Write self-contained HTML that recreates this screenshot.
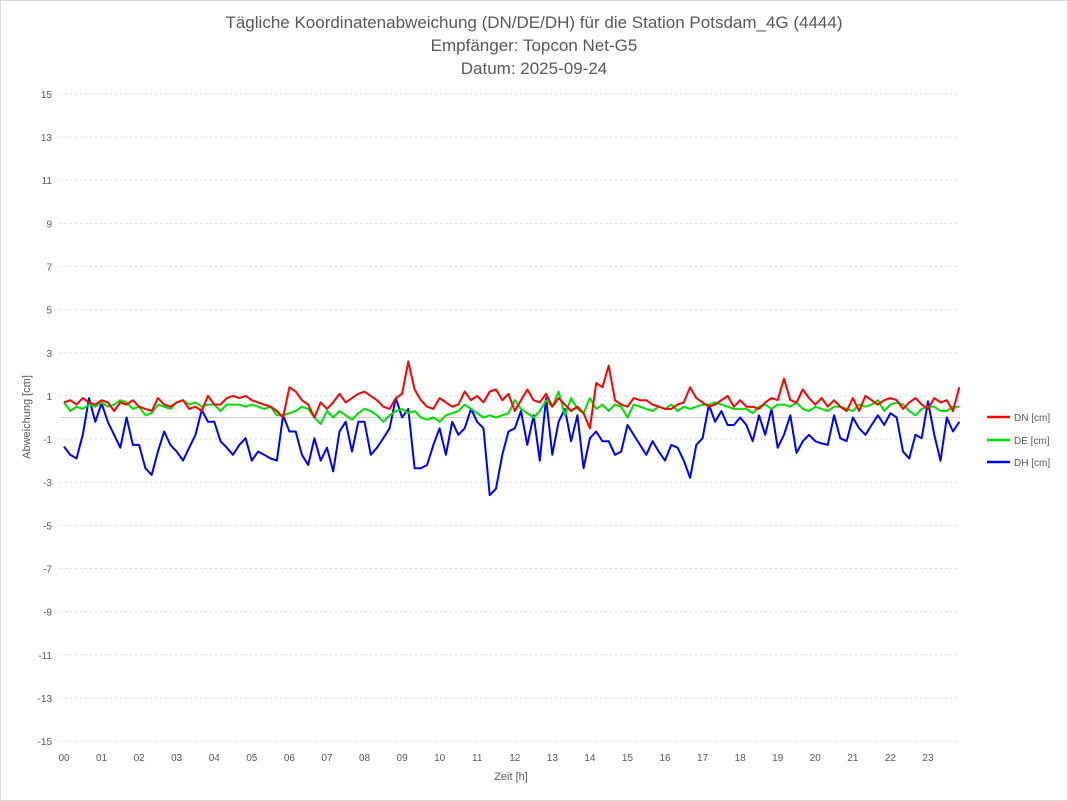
<!DOCTYPE html>
<html><head><meta charset="utf-8"><style>
body{margin:0;background:#fff;font-family:"Liberation Sans",sans-serif}
#wrap{position:relative;width:1068px;height:801px;box-sizing:border-box;border:1px solid #d9d9d9}
</style></head><body>
<div id="wrap">
<svg id="chart" width="1068" height="801" style="position:absolute;left:-1px;top:-1px">
<g fill="#595959" font-size="17" text-anchor="middle">
<text x="534" y="28">Tägliche Koordinatenabweichung (DN/DE/DH) für die Station Potsdam_4G (4444)</text>
<text x="534" y="51">Empfänger: Topcon Net-G5</text>
<text x="534" y="74">Datum: 2025-09-24</text>
</g>
<text transform="translate(30,417) rotate(-90)" text-anchor="middle" font-size="11" fill="#595959">Abweichung [cm]</text>
<text x="511" y="780" text-anchor="middle" font-size="11" fill="#595959">Zeit [h]</text>
<g id="grid"></g><g id="series"></g>
<g font-size="10" fill="#595959">
<line x1="987" y1="417" x2="1010" y2="417" stroke="#ff0000" stroke-width="2.5"/><text x="1014" y="421">DN [cm]</text>
<line x1="987" y1="440" x2="1010" y2="440" stroke="#00e000" stroke-width="2.5"/><text x="1014" y="444">DE [cm]</text>
<line x1="987" y1="462" x2="1010" y2="462" stroke="#0000ff" stroke-width="2.5"/><text x="1014" y="466">DH [cm]</text>
</g>
</svg></div>
<script>
const yTicks=[15,13,11,9,7,5,3,1,-1,-3,-5,-7,-9,-11,-13,-15];
const xTicks=["00","01","02","03","04","05","06","07","08","09","10","11","12","13","14","15","16","17","18","19","20","21","22","23"];
const stepHours=1/6;
const dn=[0.7,0.8,0.6,0.9,0.7,0.6,0.8,0.7,0.3,0.7,0.6,0.8,0.5,0.4,0.3,0.9,0.6,0.5,0.7,0.8,0.4,0.5,0.3,1.0,0.6,0.6,0.9,1.0,0.9,1.0,0.8,0.7,0.6,0.5,0.3,0.0,1.4,
1.2,0.8,0.6,0.0,0.7,0.4,0.7,1.1,0.7,0.9,1.1,1.2,1.0,0.8,0.5,0.4,0.9,1.1,2.6,1.3,0.8,0.5,0.4,0.9,0.7,0.5,0.6,1.2,0.8,1.0,0.7,1.2,1.3,0.8,1.1,
0.3,0.8,1.3,0.8,0.7,1.1,0.5,0.9,0.6,0.3,0.5,0.2,-0.5,1.6,1.4,2.4,0.8,0.6,0.5,0.9,0.8,0.8,0.6,0.5,0.4,0.4,0.6,0.7,1.4,0.9,0.7,0.5,0.6,0.8,1.0,0.5,
0.8,0.5,0.5,0.4,0.7,0.9,0.8,1.8,0.8,0.7,1.3,0.9,0.6,0.9,0.5,0.8,0.5,0.3,0.9,0.3,1.0,0.8,0.6,0.8,0.9,0.8,0.4,0.7,0.9,0.6,0.4,0.9,0.7,0.8,0.3,1.4];
const de=[0.7,0.3,0.5,0.4,0.6,0.5,0.7,0.5,0.6,0.8,0.7,0.4,0.5,0.1,0.2,0.6,0.5,0.4,0.7,0.8,0.6,0.7,0.5,0.6,0.6,0.3,0.6,0.6,0.6,0.5,0.6,0.5,0.4,0.5,0.1,0.1,0.2,
0.3,0.5,0.4,0.0,-0.3,0.3,0.0,0.3,0.1,-0.1,0.2,0.4,0.3,0.1,-0.2,0.1,0.3,0.4,0.2,0.3,0.0,-0.1,0.0,-0.2,0.1,0.2,0.3,0.6,0.4,0.2,0.0,0.1,0.0,0.1,0.2,
0.8,0.4,0.2,0.0,0.3,0.8,0.5,1.2,0.1,0.9,0.4,0.2,0.9,0.4,0.6,0.3,0.6,0.5,0.0,0.6,0.5,0.4,0.3,0.5,0.4,0.6,0.3,0.5,0.4,0.5,0.6,0.6,0.7,0.6,0.5,0.4,
0.4,0.4,0.2,0.5,0.6,0.4,0.6,0.6,0.5,0.7,0.4,0.3,0.5,0.4,0.3,0.5,0.5,0.4,0.3,0.6,0.5,0.6,0.8,0.3,0.6,0.7,0.6,0.3,0.1,0.4,0.5,0.5,0.3,0.3,0.5,0.5];
const dh=[-1.35,-1.73,-1.9,-0.8,0.9,-0.2,0.66,-0.2,-0.8,-1.4,0,-1.27,-1.27,-2.35,-2.66,-1.58,-0.65,-1.27,-1.58,-2.0,-1.4,-0.8,0.35,-0.2,-0.2,-1.1,-1.4,-1.73,-1.27,-0.96,-2.0,-1.58,-1.73,-1.9,-2.0,0.1,-0.65,
-0.65,-1.73,-2.2,-0.96,-2.0,-1.4,-2.5,-0.65,-0.2,-1.58,-0.2,-0.2,-1.73,-1.4,-0.96,-0.5,0.9,0,0.4,-2.35,-2.35,-2.2,-1.27,-0.5,-1.73,-0.2,-0.8,-0.5,0.4,-0.2,-0.5,-3.6,-3.3,-1.73,-0.65,
-0.5,0.3,-1.27,0.1,-2.0,0.9,-1.73,-0.2,0.4,-1.1,0.1,-2.35,-0.96,-0.65,-1.1,-1.1,-1.73,-1.58,-0.35,-0.8,-1.27,-1.73,-1.1,-1.58,-2.0,-1.27,-1.4,-2.0,-2.8,-1.27,-0.96,0.6,-0.2,0.3,-0.35,-0.35,
0,-0.35,-1.1,0.1,-0.8,0.4,-1.4,-0.8,0.1,-1.65,-1.1,-0.8,-1.1,-1.2,-1.27,0.1,-0.96,-1.1,0,-0.5,-0.8,-0.35,0.1,-0.35,0.2,0,-1.58,-1.9,-0.8,-0.96,0.75,-0.8,-2.0,0,-0.65,-0.2];
const X=h=>64+h*37.565, Y=v=>417.5-v*21.57;
const NS="http://www.w3.org/2000/svg";
const grid=document.getElementById('grid'), ser=document.getElementById('series');
function mk(tag,attrs,parent){const e=document.createElementNS(NS,tag);for(const k in attrs)e.setAttribute(k,attrs[k]);parent.appendChild(e);return e;}
yTicks.forEach(v=>{
 const l=mk('line',{x1:60,x2:960,y1:Y(v),y2:Y(v),stroke:'#d9d9d9','stroke-dasharray':'2,3'},grid);
 
 
 const t=mk('text',{x:52,y:Y(v)+4,'text-anchor':'end','font-size':10,fill:'#595959'},grid);
 t.textContent=v;
 
 
});
const z=mk('line',{x1:60,x2:960,y1:Y(0),y2:Y(0),stroke:'#d0d0d0','stroke-width':1},grid);


xTicks.forEach((s,i)=>{
 const t=mk('text',{x:X(i),y:761,'text-anchor':'middle','font-size':10,fill:'#595959'},grid);
 t.textContent=s;
 
 
});
[[dh,'#0000ff','dh-line'],[de,'#00e000','de-line'],[dn,'#ff0000','dn-line']].forEach(([d,c,n])=>{
 const p=mk('polyline',{points:d.map((v,i)=>X(i*stepHours).toFixed(1)+','+Y(v).toFixed(1)).join(' '),fill:'none',stroke:c,'stroke-width':2,'stroke-linejoin':'round'},ser);
 
 
});
</script>
</body></html>
